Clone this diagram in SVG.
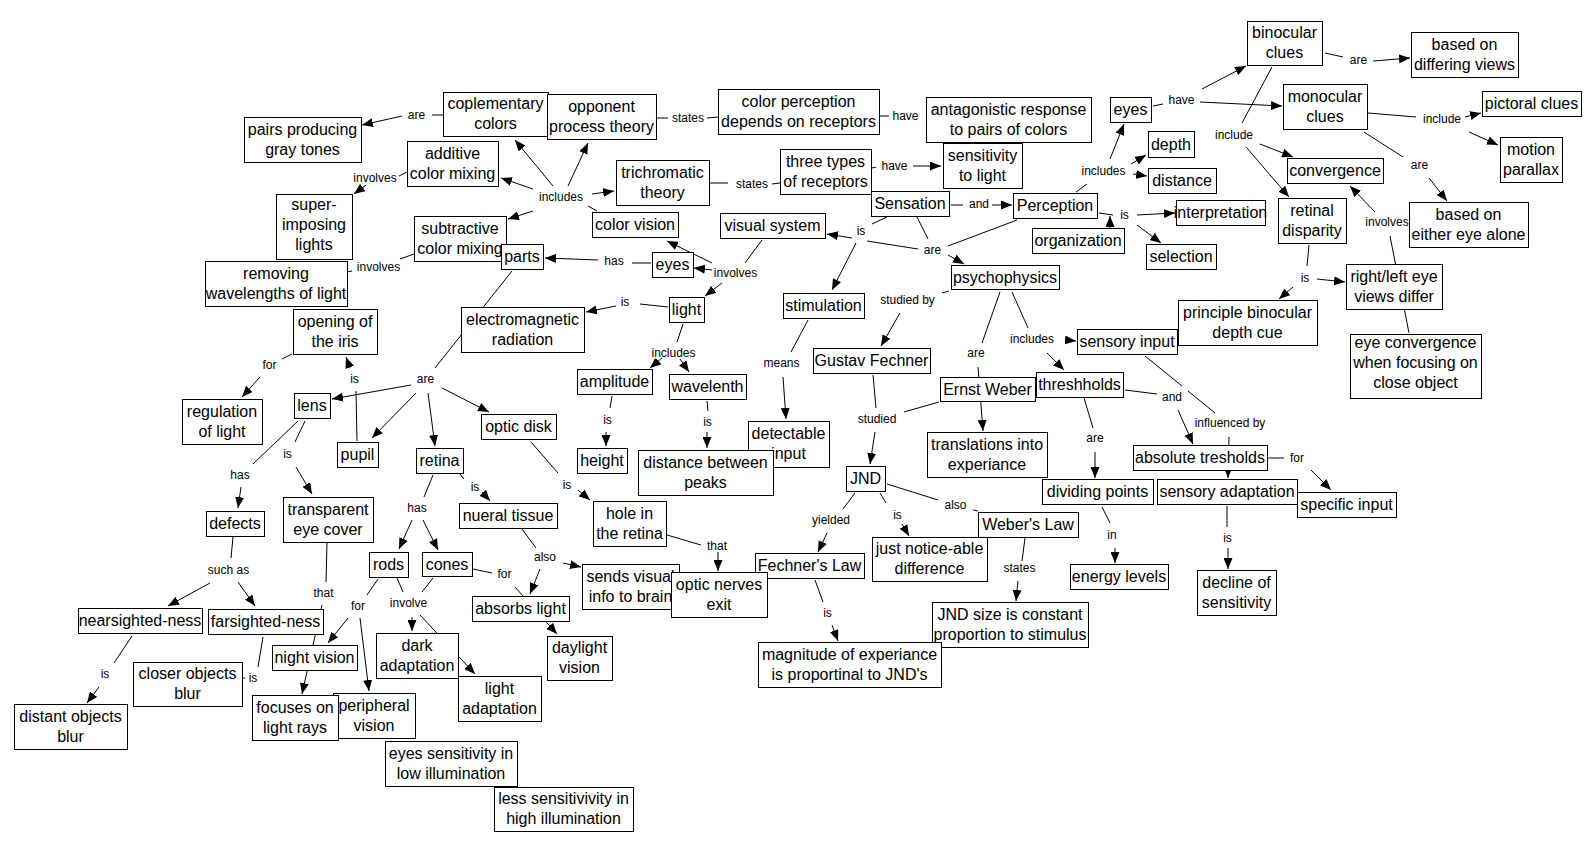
<svg xmlns="http://www.w3.org/2000/svg" width="1596" height="851" viewBox="0 0 1596 851">
<defs>
<marker id="ah" viewBox="0 0 11 9" refX="11" refY="4.5" markerWidth="11" markerHeight="9" markerUnits="userSpaceOnUse" orient="auto"><path d="M0,0 L11,4.5 L0,9 z" fill="#000"/></marker>
<style>
.n rect{fill:#fff;stroke:#000;stroke-width:1}
.n text{font-family:"Liberation Sans",Arial,sans-serif;font-size:16px;text-anchor:middle;fill:#000}
#connectors line{stroke:#000;stroke-width:1;fill:none}
#connectors line.a{marker-end:url(#ah)}
#labels text{font-family:"Liberation Sans",Arial,sans-serif;font-size:12px;text-anchor:middle;fill:#000;stroke:#fff;stroke-width:3px;paint-order:stroke;stroke-linejoin:round}
</style>
</defs>
<rect x="0" y="0" width="1596" height="851" fill="#fff"/>
<g id="connectors">
<line x1="432" y1="115" x2="443" y2="115"/>
<line class="a" x1="402" y1="116" x2="362" y2="125"/>
<line x1="399" y1="176" x2="407" y2="172"/>
<line class="a" x1="366" y1="185" x2="354" y2="194"/>
<line x1="400" y1="259" x2="414" y2="254"/>
<line x1="352" y1="271" x2="346" y2="272"/>
<line x1="597" y1="211" x2="588" y2="206"/>
<line class="a" x1="553" y1="186" x2="515" y2="140"/>
<line class="a" x1="568" y1="186" x2="588" y2="143"/>
<line class="a" x1="533" y1="189" x2="501" y2="178"/>
<line class="a" x1="592" y1="194" x2="614" y2="191"/>
<line class="a" x1="533" y1="211" x2="508" y2="219"/>
<line x1="657" y1="118" x2="668" y2="118"/>
<line x1="707" y1="118" x2="718" y2="117"/>
<line x1="710" y1="183" x2="728" y2="183"/>
<line x1="772" y1="184" x2="780" y2="183"/>
<line x1="879" y1="116" x2="889" y2="116"/>
<line x1="872" y1="168" x2="876" y2="167"/>
<line class="a" x1="913" y1="166" x2="941" y2="166"/>
<line x1="632" y1="263" x2="651" y2="263"/>
<line class="a" x1="598" y1="260" x2="545" y2="258"/>
<line x1="762" y1="240" x2="745" y2="263"/>
<line class="a" x1="712" y1="263" x2="667" y2="241"/>
<line class="a" x1="712" y1="270" x2="694" y2="268"/>
<line class="a" x1="722" y1="283" x2="705" y2="296"/>
<line x1="640" y1="304" x2="668" y2="307"/>
<line class="a" x1="616" y1="306" x2="586" y2="312"/>
<line x1="512" y1="271" x2="435" y2="368"/>
<line class="a" x1="411" y1="385" x2="332" y2="399"/>
<line class="a" x1="416" y1="393" x2="372" y2="438"/>
<line class="a" x1="428" y1="393" x2="435" y2="446"/>
<line class="a" x1="442" y1="388" x2="489" y2="412"/>
<line x1="292" y1="354" x2="282" y2="359"/>
<line class="a" x1="260" y1="377" x2="242" y2="397"/>
<line x1="357" y1="441" x2="356" y2="391"/>
<line class="a" x1="350" y1="368" x2="346" y2="357"/>
<line x1="305" y1="421" x2="295" y2="442"/>
<line class="a" x1="296" y1="467" x2="312" y2="494"/>
<line x1="298" y1="421" x2="253" y2="464"/>
<line class="a" x1="241" y1="487" x2="238" y2="508"/>
<line x1="233" y1="537" x2="231" y2="558"/>
<line class="a" x1="210" y1="583" x2="168" y2="606"/>
<line class="a" x1="238" y1="582" x2="255" y2="606"/>
<line x1="132" y1="636" x2="114" y2="663"/>
<line class="a" x1="99" y1="687" x2="87" y2="703"/>
<line x1="263" y1="637" x2="258" y2="667"/>
<line x1="245" y1="678" x2="242" y2="678"/>
<line x1="327" y1="542" x2="326" y2="582"/>
<line class="a" x1="322" y1="605" x2="302" y2="694"/>
<line x1="433" y1="475" x2="424" y2="497"/>
<line class="a" x1="412" y1="520" x2="399" y2="549"/>
<line class="a" x1="423" y1="520" x2="438" y2="550"/>
<line x1="460" y1="474" x2="464" y2="479"/>
<line class="a" x1="482" y1="492" x2="490" y2="501"/>
<line x1="378" y1="579" x2="367" y2="595"/>
<line class="a" x1="348" y1="618" x2="328" y2="643"/>
<line class="a" x1="360" y1="618" x2="369" y2="691"/>
<line x1="397" y1="578" x2="403" y2="592"/>
<line x1="433" y1="578" x2="422" y2="592"/>
<line class="a" x1="412" y1="617" x2="412" y2="631"/>
<line class="a" x1="420" y1="615" x2="475" y2="674"/>
<line x1="473" y1="569" x2="492" y2="573"/>
<line class="a" x1="515" y1="587" x2="557" y2="634"/>
<line x1="522" y1="529" x2="536" y2="548"/>
<line class="a" x1="540" y1="569" x2="530" y2="594"/>
<line class="a" x1="563" y1="563" x2="581" y2="567"/>
<line x1="531" y1="442" x2="558" y2="473"/>
<line class="a" x1="578" y1="490" x2="590" y2="500"/>
<line x1="667" y1="535" x2="701" y2="545"/>
<line class="a" x1="718" y1="552" x2="718" y2="571"/>
<line x1="683" y1="324" x2="677" y2="342"/>
<line class="a" x1="662" y1="358" x2="650" y2="368"/>
<line class="a" x1="680" y1="359" x2="689" y2="372"/>
<line x1="612" y1="396" x2="610" y2="408"/>
<line class="a" x1="606" y1="432" x2="606" y2="446"/>
<line x1="707" y1="401" x2="708" y2="411"/>
<line class="a" x1="707" y1="432" x2="707" y2="448"/>
<line x1="808" y1="320" x2="791" y2="352"/>
<line class="a" x1="783" y1="377" x2="786" y2="419"/>
<line x1="887" y1="217" x2="872" y2="224"/>
<line class="a" x1="856" y1="243" x2="832" y2="290"/>
<line x1="918" y1="249" x2="867" y2="241"/>
<line class="a" x1="852" y1="238" x2="827" y2="234"/>
<line x1="951" y1="205" x2="963" y2="205"/>
<line class="a" x1="992" y1="205" x2="1012" y2="205"/>
<line x1="917" y1="217" x2="928" y2="239"/>
<line x1="1017" y1="220" x2="948" y2="246"/>
<line class="a" x1="948" y1="255" x2="964" y2="264"/>
<line x1="949" y1="291" x2="942" y2="293"/>
<line class="a" x1="900" y1="313" x2="881" y2="346"/>
<line x1="873" y1="375" x2="876" y2="408"/>
<line x1="939" y1="402" x2="904" y2="412"/>
<line class="a" x1="875" y1="432" x2="870" y2="464"/>
<line x1="1000" y1="292" x2="982" y2="343"/>
<line class="a" x1="978" y1="367" x2="983" y2="431"/>
<line x1="1012" y1="292" x2="1028" y2="328"/>
<line class="a" x1="1065" y1="340" x2="1076" y2="341"/>
<line class="a" x1="1047" y1="353" x2="1064" y2="370"/>
<line x1="1125" y1="390" x2="1157" y2="394"/>
<line class="a" x1="1178" y1="410" x2="1193" y2="444"/>
<line x1="1145" y1="356" x2="1182" y2="386"/>
<line x1="1188" y1="391" x2="1215" y2="413"/>
<line class="a" x1="1229" y1="437" x2="1228" y2="478"/>
<line x1="1268" y1="458" x2="1284" y2="458"/>
<line class="a" x1="1311" y1="470" x2="1331" y2="490"/>
<line x1="1084" y1="398" x2="1093" y2="428"/>
<line class="a" x1="1095" y1="452" x2="1095" y2="478"/>
<line x1="1102" y1="507" x2="1110" y2="523"/>
<line class="a" x1="1115" y1="548" x2="1115" y2="563"/>
<line x1="1227" y1="506" x2="1227" y2="527"/>
<line class="a" x1="1228" y1="548" x2="1228" y2="569"/>
<line x1="855" y1="493" x2="843" y2="509"/>
<line class="a" x1="827" y1="533" x2="818" y2="552"/>
<line x1="880" y1="493" x2="886" y2="503"/>
<line class="a" x1="902" y1="524" x2="909" y2="536"/>
<line x1="887" y1="484" x2="938" y2="500"/>
<line x1="973" y1="510" x2="978" y2="511"/>
<line x1="1025" y1="538" x2="1022" y2="561"/>
<line class="a" x1="1018" y1="581" x2="1016" y2="601"/>
<line x1="815" y1="580" x2="823" y2="602"/>
<line class="a" x1="832" y1="625" x2="838" y2="641"/>
<line x1="1153" y1="106" x2="1163" y2="104"/>
<line class="a" x1="1202" y1="89" x2="1246" y2="66"/>
<line class="a" x1="1200" y1="102" x2="1282" y2="106"/>
<line x1="1325" y1="53" x2="1343" y2="57"/>
<line class="a" x1="1373" y1="61" x2="1410" y2="58"/>
<line x1="1368" y1="113" x2="1416" y2="117"/>
<line class="a" x1="1465" y1="117" x2="1481" y2="113"/>
<line class="a" x1="1469" y1="132" x2="1498" y2="145"/>
<line x1="1364" y1="132" x2="1403" y2="157"/>
<line class="a" x1="1429" y1="178" x2="1447" y2="201"/>
<line x1="1272" y1="67" x2="1242" y2="123"/>
<line class="a" x1="1260" y1="144" x2="1293" y2="157"/>
<line class="a" x1="1246" y1="147" x2="1289" y2="197"/>
<line x1="1409" y1="333" x2="1390" y2="236"/>
<line class="a" x1="1375" y1="212" x2="1350" y2="186"/>
<line x1="1309" y1="245" x2="1307" y2="266"/>
<line class="a" x1="1293" y1="287" x2="1279" y2="299"/>
<line class="a" x1="1317" y1="279" x2="1345" y2="282"/>
<line x1="1076" y1="192" x2="1087" y2="184"/>
<line class="a" x1="1110" y1="159" x2="1124" y2="124"/>
<line class="a" x1="1131" y1="164" x2="1146" y2="155"/>
<line class="a" x1="1133" y1="174" x2="1147" y2="176"/>
<line x1="1099" y1="213" x2="1113" y2="215"/>
<line class="a" x1="1137" y1="215" x2="1175" y2="213"/>
<line class="a" x1="1137" y1="225" x2="1161" y2="243"/>
<line class="a" x1="1110" y1="228" x2="1110" y2="216"/>
</g>
<g id="labels">
<text x="416.5" y="119">are</text>
<text x="375" y="182">involves</text>
<text x="378.5" y="271">involves</text>
<text x="561" y="201">includes</text>
<text x="688" y="122">states</text>
<text x="752" y="188">states</text>
<text x="905.5" y="120">have</text>
<text x="894.5" y="170">have</text>
<text x="614" y="265">has</text>
<text x="735.5" y="277">involves</text>
<text x="625" y="306">is</text>
<text x="425.5" y="383">are</text>
<text x="269.5" y="369">for</text>
<text x="354.5" y="383">is</text>
<text x="287.5" y="458">is</text>
<text x="240" y="479">has</text>
<text x="228.5" y="574">such as</text>
<text x="105" y="678">is</text>
<text x="253" y="682">is</text>
<text x="323.5" y="597">that</text>
<text x="417" y="512">has</text>
<text x="475" y="491">is</text>
<text x="358" y="610">for</text>
<text x="408.5" y="607">involve</text>
<text x="504.5" y="578">for</text>
<text x="545" y="561">also</text>
<text x="567" y="489">is</text>
<text x="717" y="550">that</text>
<text x="673.5" y="357">includes</text>
<text x="607.5" y="424">is</text>
<text x="707.5" y="426">is</text>
<text x="781.5" y="367">means</text>
<text x="861" y="235">is</text>
<text x="979" y="208">and</text>
<text x="932.5" y="254">are</text>
<text x="907.5" y="304">studied by</text>
<text x="877" y="423">studied</text>
<text x="976" y="357">are</text>
<text x="1032" y="343">includes</text>
<text x="1172" y="401">and</text>
<text x="1230" y="427">influenced by</text>
<text x="1297" y="462">for</text>
<text x="1095" y="442">are</text>
<text x="1112" y="539">in</text>
<text x="1227.5" y="542">is</text>
<text x="831" y="524">yielded</text>
<text x="897.5" y="519">is</text>
<text x="955.5" y="509">also</text>
<text x="1019.5" y="572">states</text>
<text x="827.5" y="617">is</text>
<text x="1181.5" y="104">have</text>
<text x="1358.5" y="64">are</text>
<text x="1442" y="123">include</text>
<text x="1419.5" y="169">are</text>
<text x="1234" y="139">include</text>
<text x="1387" y="226">involves</text>
<text x="1305" y="282">is</text>
<text x="1103.5" y="175">includes</text>
<text x="1124.5" y="219">is</text>
</g>
<g id="n-pairs" class="n"><rect x="244.5" y="117.5" width="117" height="45"/><text x="302.5" y="134.5">pairs producing</text><text x="302.5" y="154.5">gray tones</text></g>
<g id="n-superimposing" class="n"><rect x="276.5" y="194.5" width="76" height="65"/><text x="314" y="210">super-</text><text x="314" y="230">imposing</text><text x="314" y="250">lights</text></g>
<g id="n-removing" class="n"><rect x="205.5" y="261.5" width="142" height="45"/><text x="276" y="278.5">removing</text><text x="276" y="298.5">wavelengths of light</text></g>
<g id="n-coplementary" class="n"><rect x="443.5" y="92.5" width="105" height="44"/><text x="495.5" y="109">coplementary</text><text x="495.5" y="129">colors</text></g>
<g id="n-opponent" class="n"><rect x="547.5" y="94.5" width="109" height="45"/><text x="601.5" y="111.5">opponent</text><text x="601.5" y="131.5">process theory</text></g>
<g id="n-colorperception" class="n"><rect x="718.5" y="89.5" width="161" height="45"/><text x="798.5" y="106.5">color perception</text><text x="798.5" y="126.5">depends on receptors</text></g>
<g id="n-additive" class="n"><rect x="407.5" y="141.5" width="91" height="45"/><text x="452.5" y="158.5">additive</text><text x="452.5" y="178.5">color mixing</text></g>
<g id="n-trichromatic" class="n"><rect x="616.5" y="160.5" width="93" height="45"/><text x="662.5" y="177.5">trichromatic</text><text x="662.5" y="197.5">theory</text></g>
<g id="n-colorvision" class="n"><rect x="592.5" y="212.5" width="86" height="25"/><text x="635" y="230">color vision</text></g>
<g id="n-visualsystem" class="n"><rect x="720.5" y="213.5" width="105" height="25"/><text x="772.5" y="231">visual system</text></g>
<g id="n-subtractive" class="n"><rect x="414.5" y="216.5" width="92" height="45"/><text x="460" y="233.5">subtractive</text><text x="460" y="253.5">color mixing</text></g>
<g id="n-parts" class="n"><rect x="501.5" y="244.5" width="42" height="25"/><text x="522" y="262">parts</text></g>
<g id="n-eyes2" class="n"><rect x="652.5" y="252.5" width="41" height="25"/><text x="672.5" y="270">eyes</text></g>
<g id="n-light" class="n"><rect x="669.5" y="297.5" width="35" height="25"/><text x="686.5" y="315">light</text></g>
<g id="n-em" class="n"><rect x="461.5" y="307.5" width="123" height="45"/><text x="522.5" y="324.5">electromagnetic</text><text x="522.5" y="344.5">radiation</text></g>
<g id="n-opening" class="n"><rect x="293.5" y="309.5" width="84" height="45"/><text x="335" y="326.5">opening of</text><text x="335" y="346.5">the iris</text></g>
<g id="n-regulation" class="n"><rect x="182.5" y="399.5" width="80" height="45"/><text x="222" y="416.5">regulation</text><text x="222" y="436.5">of light</text></g>
<g id="n-lens" class="n"><rect x="294.5" y="393.5" width="36" height="25"/><text x="312" y="411">lens</text></g>
<g id="n-pupil" class="n"><rect x="337.5" y="442.5" width="41" height="25"/><text x="357.5" y="460">pupil</text></g>
<g id="n-transparent" class="n"><rect x="283.5" y="497.5" width="90" height="45"/><text x="328" y="514.5">transparent</text><text x="328" y="534.5">eye cover</text></g>
<g id="n-defects" class="n"><rect x="206.5" y="511.5" width="58" height="25"/><text x="235" y="529">defects</text></g>
<g id="n-retina" class="n"><rect x="416.5" y="448.5" width="47" height="25"/><text x="439.5" y="466">retina</text></g>
<g id="n-opticdisk" class="n"><rect x="481.5" y="414.5" width="75" height="25"/><text x="518.5" y="432">optic disk</text></g>
<g id="n-nueral" class="n"><rect x="459.5" y="503.5" width="98" height="25"/><text x="508" y="521">nueral tissue</text></g>
<g id="n-hole" class="n"><rect x="593.5" y="501.5" width="73" height="45"/><text x="629.5" y="518.5">hole in</text><text x="629.5" y="538.5">the retina</text></g>
<g id="n-amplitude" class="n"><rect x="577.5" y="369.5" width="75" height="25"/><text x="614.5" y="387">amplitude</text></g>
<g id="n-wavelenth" class="n"><rect x="669.5" y="374.5" width="77" height="25"/><text x="707.5" y="392">wavelenth</text></g>
<g id="n-height" class="n"><rect x="577.5" y="448.5" width="50" height="25"/><text x="602" y="466">height</text></g>
<g id="n-detectable" class="n"><rect x="748.5" y="421.5" width="81" height="46"/><text x="788.5" y="439">detectable</text><text x="788.5" y="459">input</text></g>
<g id="n-distancepeaks" class="n"><rect x="638.5" y="450.5" width="135" height="45"/><text x="705.5" y="467.5">distance between</text><text x="705.5" y="487.5">peaks</text></g>
<g id="n-stimulation" class="n"><rect x="783.5" y="293.5" width="81" height="25"/><text x="823.5" y="311">stimulation</text></g>
<g id="n-threetypes" class="n"><rect x="780.5" y="149.5" width="91" height="45"/><text x="825.5" y="166.5">three types</text><text x="825.5" y="186.5">of receptors</text></g>
<g id="n-sensitivity" class="n"><rect x="943.5" y="143.5" width="79" height="45"/><text x="982.5" y="160.5">sensitivity</text><text x="982.5" y="180.5">to light</text></g>
<g id="n-antagonistic" class="n"><rect x="926.5" y="97.5" width="165" height="45"/><text x="1008.5" y="114.5">antagonistic response</text><text x="1008.5" y="134.5">to pairs of colors</text></g>
<g id="n-sensation" class="n"><rect x="871.5" y="191.5" width="78" height="25"/><text x="910" y="209">Sensation</text></g>
<g id="n-perception" class="n"><rect x="1013.5" y="193.5" width="84" height="25"/><text x="1055" y="211">Perception</text></g>
<g id="n-organization" class="n"><rect x="1032.5" y="228.5" width="92" height="25"/><text x="1078" y="246">organization</text></g>
<g id="n-interpretation" class="n"><rect x="1176.5" y="200.5" width="89" height="25"/><text x="1220.5" y="218">interpretation</text></g>
<g id="n-selection" class="n"><rect x="1146.5" y="244.5" width="70" height="25"/><text x="1181" y="262">selection</text></g>
<g id="n-depth" class="n"><rect x="1148.5" y="131.5" width="46" height="26"/><text x="1171" y="149.5">depth</text></g>
<g id="n-distance" class="n"><rect x="1148.5" y="168.5" width="68" height="25"/><text x="1182" y="186">distance</text></g>
<g id="n-eyes1" class="n"><rect x="1110.5" y="97.5" width="41" height="25"/><text x="1130.5" y="115">eyes</text></g>
<g id="n-binocular" class="n"><rect x="1247.5" y="21.5" width="75" height="44"/><text x="1284.5" y="38">binocular</text><text x="1284.5" y="58">clues</text></g>
<g id="n-differing" class="n"><rect x="1411.5" y="32.5" width="107" height="45"/><text x="1464.5" y="49.5">based on</text><text x="1464.5" y="69.5">differing views</text></g>
<g id="n-monocular" class="n"><rect x="1283.5" y="84.5" width="84" height="45"/><text x="1325" y="101.5">monocular</text><text x="1325" y="121.5">clues</text></g>
<g id="n-pictoral" class="n"><rect x="1482.5" y="91.5" width="99" height="25"/><text x="1531.5" y="109">pictoral clues</text></g>
<g id="n-motion" class="n"><rect x="1500.5" y="137.5" width="62" height="45"/><text x="1531" y="154.5">motion</text><text x="1531" y="174.5">parallax</text></g>
<g id="n-either" class="n"><rect x="1409.5" y="202.5" width="119" height="45"/><text x="1468.5" y="219.5">based on</text><text x="1468.5" y="239.5">either eye alone</text></g>
<g id="n-convergence" class="n"><rect x="1287.5" y="158.5" width="96" height="25"/><text x="1335" y="176">convergence</text></g>
<g id="n-retinal" class="n"><rect x="1278.5" y="198.5" width="68" height="45"/><text x="1312" y="215.5">retinal</text><text x="1312" y="235.5">disparity</text></g>
<g id="n-rightleft" class="n"><rect x="1346.5" y="264.5" width="96" height="45"/><text x="1394" y="281.5">right/left eye</text><text x="1394" y="301.5">views differ</text></g>
<g id="n-principle" class="n"><rect x="1178.5" y="300.5" width="139" height="45"/><text x="1247.5" y="317.5">principle binocular</text><text x="1247.5" y="337.5">depth cue</text></g>
<g id="n-eyeconvergence" class="n"><rect x="1350.5" y="334.5" width="131" height="64"/><text x="1415.5" y="348">eye convergence</text><text x="1415.5" y="368">when focusing on</text><text x="1415.5" y="388">close object</text></g>
<g id="n-psychophysics" class="n"><rect x="951.5" y="265.5" width="108" height="24"/><text x="1005" y="282.5">psychophysics</text></g>
<g id="n-gustav" class="n"><rect x="813.5" y="348.5" width="117" height="25"/><text x="871.5" y="366">Gustav Fechner</text></g>
<g id="n-ernst" class="n"><rect x="940.5" y="377.5" width="95" height="24"/><text x="987.5" y="394.5">Ernst Weber</text></g>
<g id="n-translations" class="n"><rect x="927.5" y="432.5" width="120" height="45"/><text x="987" y="449.5">translations into</text><text x="987" y="469.5">experiance</text></g>
<g id="n-sensoryinput" class="n"><rect x="1077.5" y="329.5" width="100" height="25"/><text x="1127" y="347">sensory input</text></g>
<g id="n-threshholds" class="n"><rect x="1036.5" y="372.5" width="87" height="25"/><text x="1079.5" y="390">threshholds</text></g>
<g id="n-absolute" class="n"><rect x="1133.5" y="445.5" width="134" height="25"/><text x="1200" y="463">absolute tresholds</text></g>
<g id="n-sensoryadaptation" class="n"><rect x="1157.5" y="479.5" width="140" height="25"/><text x="1227" y="497">sensory adaptation</text></g>
<g id="n-specific" class="n"><rect x="1297.5" y="492.5" width="99" height="25"/><text x="1346.5" y="510">specific input</text></g>
<g id="n-dividing" class="n"><rect x="1042.5" y="479.5" width="111" height="25"/><text x="1097.5" y="497">dividing points</text></g>
<g id="n-energy" class="n"><rect x="1070.5" y="564.5" width="98" height="25"/><text x="1119" y="582">energy levels</text></g>
<g id="n-decline" class="n"><rect x="1197.5" y="570.5" width="79" height="45"/><text x="1236.5" y="587.5">decline of</text><text x="1236.5" y="607.5">sensitivity</text></g>
<g id="n-jnd" class="n"><rect x="846.5" y="466.5" width="39" height="25"/><text x="865.5" y="484">JND</text></g>
<g id="n-fechnerlaw" class="n"><rect x="755.5" y="553.5" width="109" height="25"/><text x="809.5" y="571">Fechner's Law</text></g>
<g id="n-justnotice" class="n"><rect x="872.5" y="537.5" width="115" height="44"/><text x="929.5" y="554">just notice-able</text><text x="929.5" y="574">difference</text></g>
<g id="n-weberlaw" class="n"><rect x="978.5" y="512.5" width="100" height="25"/><text x="1028" y="530">Weber's Law</text></g>
<g id="n-jndsize" class="n"><rect x="932.5" y="602.5" width="156" height="45"/><text x="1010" y="619.5">JND size is constant</text><text x="1010" y="639.5">proportion to stimulus</text></g>
<g id="n-magnitude" class="n"><rect x="758.5" y="642.5" width="183" height="45"/><text x="849.5" y="659.5">magnitude of experiance</text><text x="849.5" y="679.5">is proportinal to JND's</text></g>
<g id="n-sends" class="n"><rect x="582.5" y="564.5" width="97" height="45"/><text x="630.5" y="581.5">sends visual</text><text x="630.5" y="601.5">info to brain</text></g>
<g id="n-opticnerves" class="n"><rect x="671.5" y="572.5" width="96" height="45"/><text x="719" y="589.5">optic nerves</text><text x="719" y="609.5">exit</text></g>
<g id="n-absorbs" class="n"><rect x="472.5" y="596.5" width="97" height="25"/><text x="520.5" y="614">absorbs light</text></g>
<g id="n-daylight" class="n"><rect x="547.5" y="636.5" width="65" height="44"/><text x="579.5" y="653">daylight</text><text x="579.5" y="673">vision</text></g>
<g id="n-rods" class="n"><rect x="369.5" y="552.5" width="39" height="25"/><text x="388.5" y="570">rods</text></g>
<g id="n-cones" class="n"><rect x="422.5" y="552.5" width="50" height="24"/><text x="447" y="569.5">cones</text></g>
<g id="n-darkadaptation" class="n"><rect x="376.5" y="633.5" width="82" height="45"/><text x="417" y="650.5">dark</text><text x="417" y="670.5">adaptation</text></g>
<g id="n-lightadaptation" class="n"><rect x="458.5" y="676.5" width="83" height="45"/><text x="499.5" y="693.5">light</text><text x="499.5" y="713.5">adaptation</text></g>
<g id="n-eyessensitivity" class="n"><rect x="385.5" y="741.5" width="132" height="45"/><text x="451" y="758.5">eyes sensitivity in</text><text x="451" y="778.5">low illumination</text></g>
<g id="n-lesssensitivity" class="n"><rect x="494.5" y="787.5" width="139" height="44"/><text x="563.5" y="804">less sensitivivity in</text><text x="563.5" y="824">high illumination</text></g>
<g id="n-nearsighted" class="n"><rect x="78.5" y="608.5" width="124" height="25"/><text x="140" y="626">nearsighted-ness</text></g>
<g id="n-farsighted" class="n"><rect x="208.5" y="609.5" width="115" height="25"/><text x="265.5" y="627">farsighted-ness</text></g>
<g id="n-distant" class="n"><rect x="14.5" y="704.5" width="113" height="45"/><text x="70.5" y="721.5">distant objects</text><text x="70.5" y="741.5">blur</text></g>
<g id="n-closer" class="n"><rect x="133.5" y="662.5" width="109" height="44"/><text x="187.5" y="679">closer objects</text><text x="187.5" y="699">blur</text></g>
<g id="n-nightvision" class="n"><rect x="272.5" y="645.5" width="85" height="25"/><text x="314.5" y="663">night vision</text></g>
<g id="n-peripheral" class="n"><rect x="333.5" y="693.5" width="82" height="45"/><text x="374" y="710.5">peripheral</text><text x="374" y="730.5">vision</text></g>
<g id="n-focuses" class="n"><rect x="252.5" y="695.5" width="86" height="45"/><text x="295" y="712.5">focuses on</text><text x="295" y="732.5">light rays</text></g>
</svg>
